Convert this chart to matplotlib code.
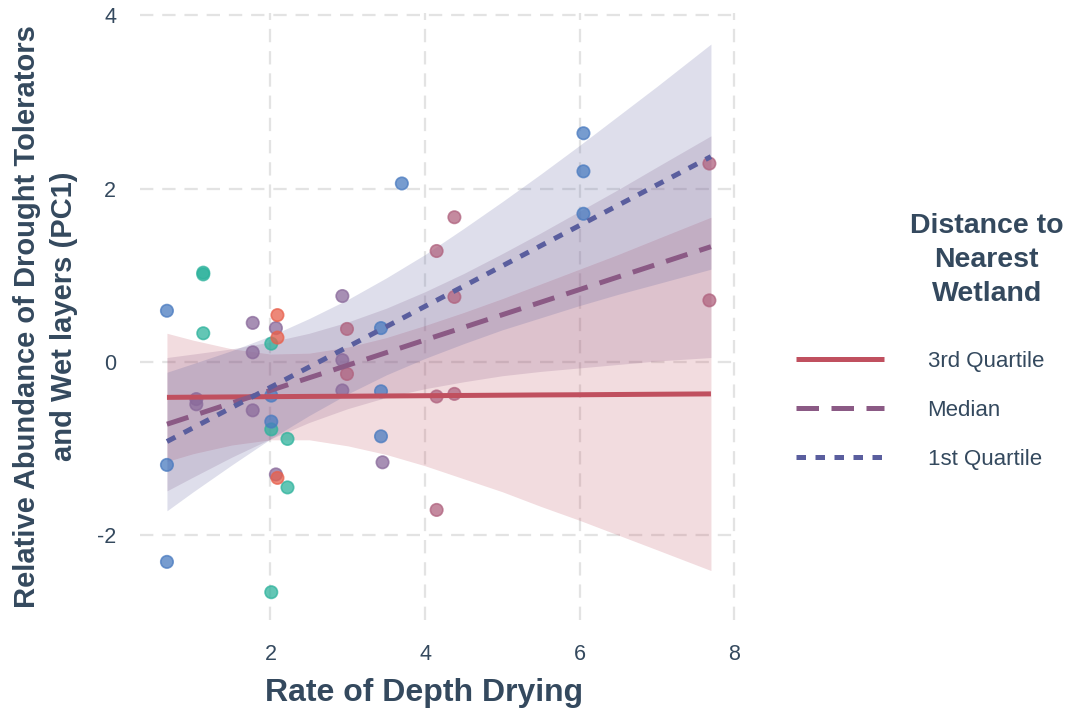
import matplotlib
matplotlib.use("Agg")
import matplotlib.pyplot as plt
from matplotlib.lines import Line2D

plt.rcParams['font.family'] = ['Liberation Sans', 'DejaVu Sans']
plt.rcParams['axes.unicode_minus'] = False

TXT = '#34495e'

# observed points: rate of depth drying, PC1, colour group
pt_x = [1.13, 1.13, 1.13, 2.01, 2.01, 2.22, 2.22, 2.01,
        0.66, 0.66, 0.66, 2.01, 2.01, 3.70, 6.05, 6.05, 6.05, 3.43, 3.43, 3.43,
        1.04, 1.04, 1.77, 1.77, 1.77, 2.07, 2.07, 2.93, 2.93, 2.93, 3.45,
        2.99, 2.99, 4.38, 4.15, 4.38, 4.15, 4.38, 4.15, 7.68, 7.68,
        2.09, 2.09, 2.09]
pt_y = [1.03, 1.01, 0.33, 0.21, -0.78, -0.89, -1.45, -2.66,
        0.59, -1.19, -2.31, -0.39, -0.69, 2.06, 2.64, 2.20, 1.71, 0.39, -0.34, -0.86,
        -0.43, -0.49, 0.45, 0.11, -0.56, 0.39, -1.30, 0.76, 0.02, -0.33, -1.16,
        0.38, -0.14, 1.67, 1.28, 0.75, -0.40, -0.37, -1.71, 2.29, 0.71,
        0.54, 0.28, -1.34]
pt_grp = [0] * 8 + [1] * 12 + [2] * 11 + [3] * 10 + [4] * 3
grp_colors = ['#2fb39d', '#4a7bc0', '#8a6a9b', '#b0637f', '#e8604c']

# fitted lines and confidence bands
band_x = [0.66, 1.0, 1.5, 2.0, 2.5, 3.0, 3.5, 4.0, 4.5, 5.0, 5.5, 6.0, 6.5, 7.0, 7.7]

q3_fit = [-0.410, -0.408, -0.405, -0.402, -0.399, -0.397, -0.394, -0.391, -0.388, -0.385, -0.382, -0.380, -0.377, -0.374, -0.370]
q3_lo = [-1.15, -1.06, -0.96, -0.90, -0.90, -0.97, -1.07, -1.20, -1.35, -1.50, -1.67, -1.83, -2.00, -2.17, -2.41]
q3_hi = [0.33, 0.25, 0.15, 0.09, 0.10, 0.17, 0.28, 0.42, 0.57, 0.73, 0.90, 1.07, 1.24, 1.42, 1.67]

med_fit = [-0.720, -0.621, -0.475, -0.330, -0.184, -0.039, 0.107, 0.253, 0.398, 0.544, 0.689, 0.835, 0.981, 1.126, 1.330]
med_lo = [-1.49, -1.33, -1.10, -0.89, -0.70, -0.54, -0.41, -0.31, -0.23, -0.16, -0.11, -0.07, -0.03, 0.01, 0.05]
med_hi = [0.05, 0.09, 0.15, 0.23, 0.33, 0.46, 0.62, 0.81, 1.02, 1.25, 1.49, 1.74, 1.99, 2.25, 2.61]

q1_fit = [-0.920, -0.761, -0.527, -0.294, -0.060, 0.173, 0.407, 0.641, 0.874, 1.108, 1.342, 1.575, 1.809, 2.043, 2.370]
q1_lo = [-1.72, -1.50, -1.19, -0.89, -0.62, -0.37, -0.15, 0.04, 0.21, 0.37, 0.51, 0.65, 0.78, 0.90, 1.07]
q1_hi = [-0.12, -0.02, 0.13, 0.30, 0.50, 0.72, 0.97, 1.24, 1.54, 1.85, 2.17, 2.50, 2.84, 3.18, 3.67]

labels = ['3rd Quartile', 'Median', '1st Quartile']
line_colors = ['#c0505f', '#8b5a85', '#5a5e9e']
line_dashes = [None, (4.5, 2.5), (1.9, 1.9)]

fig = plt.figure(figsize=(10.68, 7.15), dpi=100)
ax = fig.add_axes([0.131, 0.133, 0.56, 0.849])

ax.grid(True, color='#e3e3e3', lw=1.6, dashes=(6, 4))
ax.set_axisbelow(True)
for s in ax.spines.values():
    s.set_visible(False)
ax.tick_params(length=0, labelsize=15.5, labelcolor=TXT, pad=17)

fits = [(q3_fit, q3_lo, q3_hi), (med_fit, med_lo, med_hi), (q1_fit, q1_lo, q1_hi)]
for (f, lo, hi), c in zip(fits, line_colors):
    ax.fill_between(band_x, lo, hi, color=c, alpha=0.2, lw=0)

cols = [grp_colors[g] for g in pt_grp]
ax.scatter(pt_x, pt_y, s=80, c=cols, alpha=0.75, edgecolors=cols, linewidths=1.2, zorder=3)

handles = []
for (f, lo, hi), c, d, lab in zip(fits, line_colors, line_dashes, labels):
    kw = {'dashes': d} if d else {}
    ax.plot(band_x, f, color=c, lw=3.6, solid_capstyle='butt', dash_capstyle='butt', zorder=4, **kw)
    handles.append(Line2D([], [], color=c, lw=3.6, solid_capstyle='butt', dash_capstyle='butt', **kw))

ax.set_xlim(0.31, 8.05)
ax.set_ylim(-2.98, 4.03)
ax.set_xticks([2, 4, 6, 8])
ax.set_yticks([-2, 0, 2, 4])

ax.set_xlabel('Rate of Depth Drying', fontsize=23, fontweight='bold', color=TXT, labelpad=14)
ax.xaxis.set_label_coords(0.475, -0.095)
ax.set_ylabel('Relative Abundance of Drought Tolerators\nand Wet layers (PC1)', fontsize=21,
              fontweight='bold', color=TXT, labelpad=14, linespacing=1.4)

leg = fig.legend(handles, labels, loc='center left', bbox_to_anchor=(0.727, 0.426), frameon=False,
                 fontsize=16, handlelength=3.95, handletextpad=1.95, labelspacing=1.25)
for t in leg.get_texts():
    t.set_color(TXT)

fig.text(0.924, 0.637, 'Distance to\nNearest\nWetland', ha='center', va='center',
         multialignment='center', fontsize=20.5, fontweight='bold', color=TXT, linespacing=1.4)

fig.savefig('out.png', dpi=100)
